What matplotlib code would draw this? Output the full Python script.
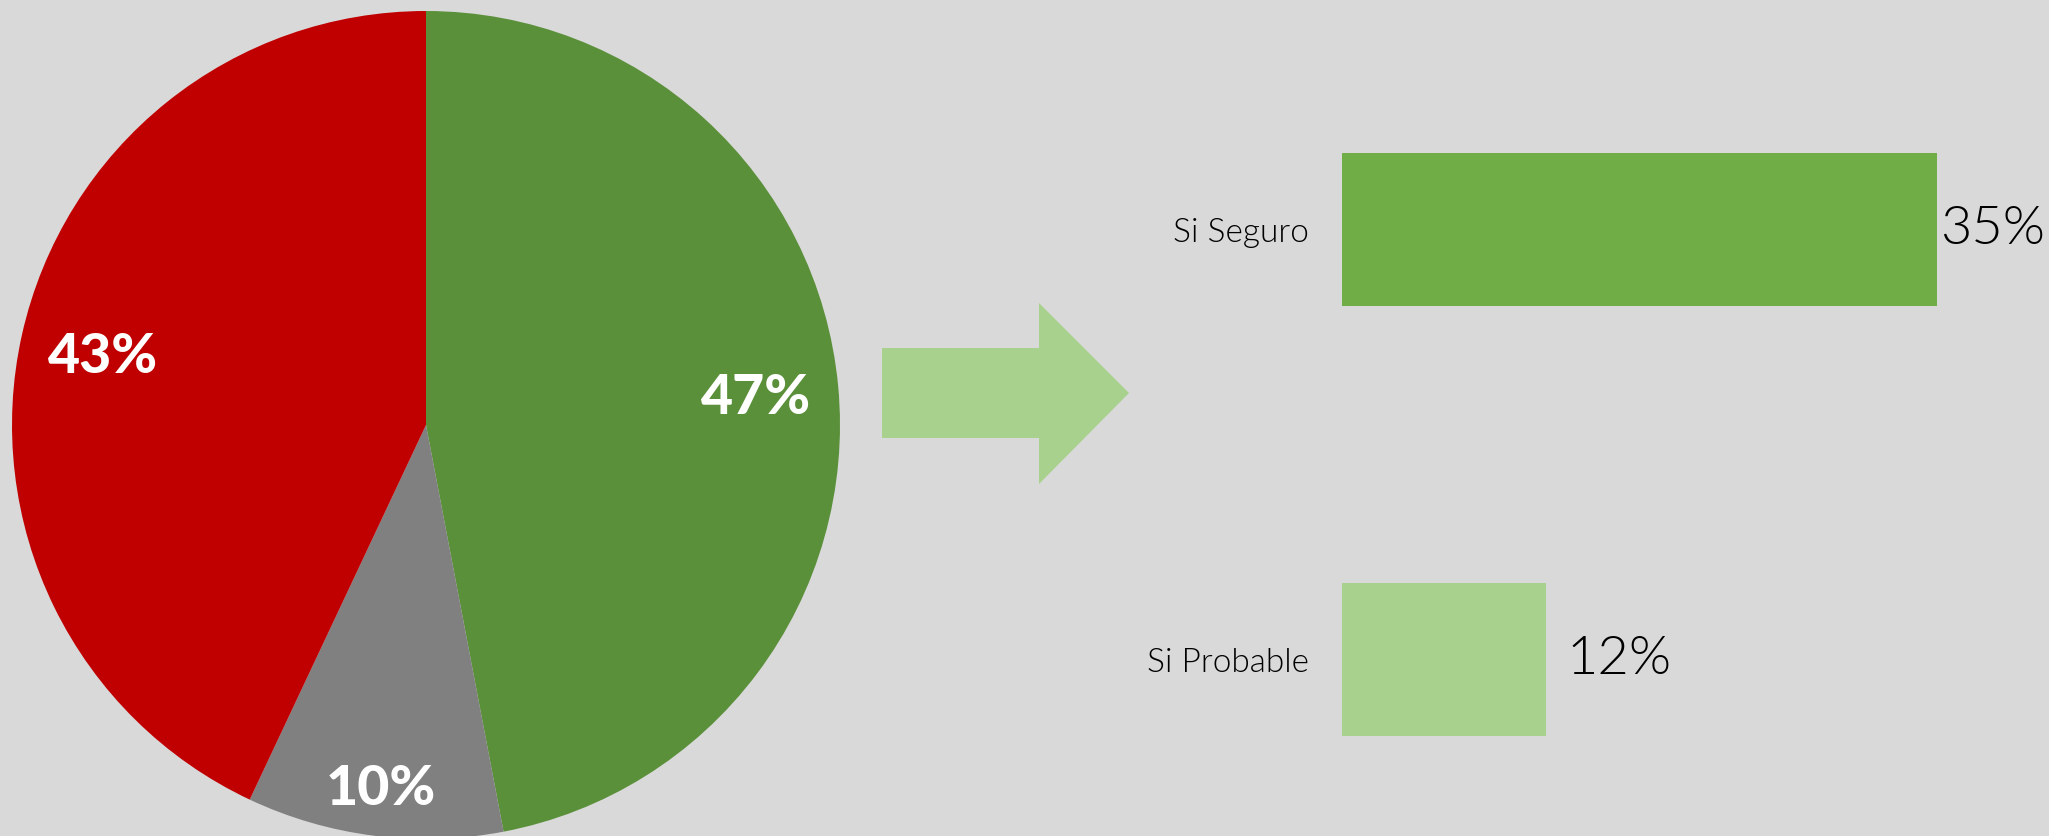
import matplotlib
matplotlib.use("Agg")
import matplotlib.pyplot as plt
import numpy as np
from matplotlib.patches import Polygon

# ---- data ----
pie_values = [47, 10, 43]
pie_colors = ["#5B903A", "#808080", "#C00000"]
pie_labels = ["47%", "10%", "43%"]

bar_categories = ["Si Seguro", "Si Probable"]
bar_values = [35, 12]
bar_labels = ["35%", "12%"]
bar_colors = ["#70AD47", "#A9D18E"]

BG = "#D9D9D9"
W, H = 2049, 836
fig = plt.figure(figsize=(W / 100, H / 100), dpi=100, facecolor=BG)

# ---- pie ----
cx, cy, r = 426, 425, 414
axp = fig.add_axes([(cx - r) / W, (H - cy - r) / H, 2 * r / W, 2 * r / H])
axp.set_facecolor(BG)
wedges, _ = axp.pie(pie_values, colors=pie_colors, startangle=90, counterclock=False,
                    radius=1, wedgeprops=dict(linewidth=0))
axp.set_xlim(-1, 1)
axp.set_ylim(-1, 1)
axp.set_aspect("equal")
axp.axis("off")
label_dist = [0.8, 0.875, 0.8]
for w, lab, d in zip(wedges, pie_labels, label_dist):
    ang = np.deg2rad((w.theta1 + w.theta2) / 2)
    axp.text(d * np.cos(ang), d * np.sin(ang), lab, ha="center", va="center_baseline",
             color="white", fontsize=40, fontweight=900, family=["Lato", "DejaVu Sans"])

# ---- arrow (decoration, in pixel coords) ----
axa = fig.add_axes([0, 0, 1, 1], facecolor="none")
axa.set_xlim(0, W)
axa.set_ylim(H, 0)
axa.axis("off")
arrow = Polygon([(882, 348), (1039, 348), (1039, 303), (1129, 393), (1039, 484),
                 (1039, 438), (882, 438)], closed=True, facecolor="#A9D18E", edgecolor="none")
axa.add_patch(arrow)

# ---- bars ----
x0 = 1342
px_per_unit = 17.0
yc0, spacing = 229.5, 430.0
axb = fig.add_axes([x0 / W, 0, (W - x0) / W, 1], facecolor="none")
ypos = np.arange(len(bar_categories))
axb.barh(ypos, bar_values, height=153 / spacing, color=bar_colors, linewidth=0)
axb.set_xlim(0, (W - x0) / px_per_unit)
axb.set_ylim(1 + (H - (yc0 + spacing)) / spacing, -yc0 / spacing)
for s in axb.spines.values():
    s.set_visible(False)
axb.set_xticks([])
axb.set_yticks(ypos)
axb.set_yticklabels(bar_categories, fontsize=24, family=["Lato", "DejaVu Sans"],
                    fontweight=300, color="#000000")
axb.tick_params(axis="y", length=0, pad=24)
pads = [2, 15]
for y, v, lab, p in zip(ypos, bar_values, bar_labels, pads):
    axb.annotate(lab, (v, y), xytext=(p, 0), textcoords="offset points", ha="left", va="center",
                 fontsize=39, family=["Lato", "DejaVu Sans"], fontweight=300, color="#000000",
                 annotation_clip=False)

fig.savefig("out.png", dpi=100, facecolor=BG)
